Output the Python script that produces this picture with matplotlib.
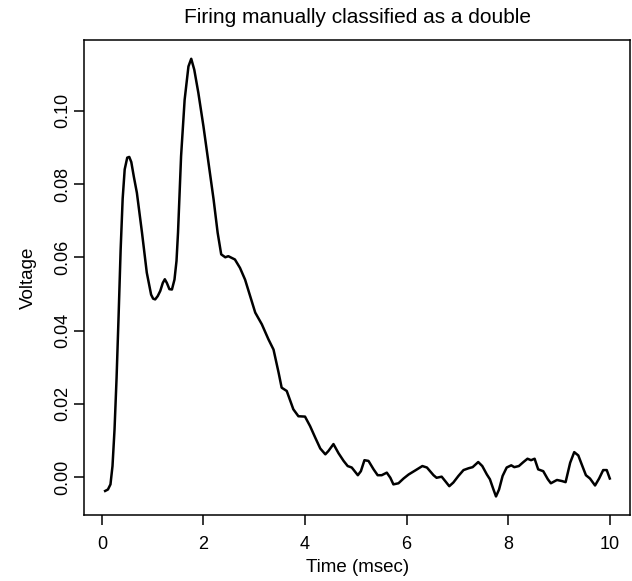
import matplotlib
matplotlib.use("Agg")
from matplotlib import pyplot as plt

plt.rcParams["font.family"] = ["Liberation Sans", "DejaVu Sans"]

# waveform (time in msec, voltage)
time_ms = [0.065, 0.12, 0.17, 0.21, 0.25, 0.29, 0.33, 0.37, 0.41, 0.45, 0.50, 0.54,
           0.58, 0.63, 0.69, 0.79, 0.885, 0.97, 1.01, 1.05, 1.10, 1.15, 1.20, 1.24,
           1.28, 1.33, 1.38, 1.43, 1.47, 1.50, 1.56, 1.63, 1.705, 1.76,
           1.82, 1.90, 2.00, 2.10, 2.20, 2.28, 2.35, 2.43, 2.49, 2.62, 2.72, 2.82,
           2.92, 3.02, 3.15, 3.28, 3.38, 3.48, 3.54, 3.64, 3.77, 3.87, 4.00, 4.10,
           4.20, 4.30, 4.40, 4.46, 4.56, 4.66, 4.76, 4.84, 4.92, 5.04, 5.10, 5.17,
           5.25, 5.35, 5.43, 5.51, 5.61, 5.68, 5.74, 5.84, 5.94, 6.04, 6.17, 6.31,
           6.40, 6.53, 6.59, 6.69, 6.76, 6.84, 6.92, 7.02, 7.12, 7.22, 7.30, 7.41,
           7.49, 7.58, 7.64, 7.71, 7.76, 7.82, 7.89, 7.97, 8.06, 8.12, 8.21, 8.30,
           8.38, 8.45, 8.52, 8.59, 8.69, 8.78, 8.84, 8.96, 9.06, 9.13, 9.22, 9.30,
           9.38, 9.46, 9.53, 9.61, 9.71, 9.79, 9.87, 9.94, 10.0]
voltage = [-0.0038, -0.0034, -0.0020, 0.0030, 0.0130, 0.0270, 0.0440, 0.0620, 0.0760,
           0.0840, 0.0872, 0.0874, 0.0860, 0.0820, 0.0776, 0.0668, 0.0558, 0.0498,
           0.0487, 0.0485, 0.0494, 0.0508, 0.0530, 0.0540, 0.0530, 0.0513, 0.0512,
           0.0539, 0.0590, 0.0668, 0.0876, 0.1030, 0.1121, 0.1142, 0.1112, 0.1049,
           0.0958, 0.0858, 0.0758, 0.0667, 0.0608, 0.0600, 0.0603, 0.0594, 0.0571,
           0.0539, 0.0494, 0.0449, 0.0417, 0.0376, 0.0348, 0.0285, 0.0244, 0.0235,
           0.0185, 0.0166, 0.0165, 0.0139, 0.0108, 0.0078, 0.0062, 0.0071, 0.0090,
           0.0065, 0.0044, 0.0030, 0.0026, 0.0005, 0.0016, 0.0046, 0.0044, 0.0021,
           0.0005, 0.0005, 0.0012, -0.0002, -0.0020, -0.0017, -0.0004, 0.0007, 0.0018,
           0.0030, 0.0026, 0.0005, -0.0002, 0.0001, -0.0011, -0.0025, -0.0015, 0.0003,
           0.0019, 0.0024, 0.0027, 0.0041, 0.0030, 0.0007, -0.0006, -0.0034, -0.0053,
           -0.0034, 0.0003, 0.0026, 0.0032, 0.0027, 0.0030, 0.0041, 0.0050, 0.0046,
           0.0050, 0.0021, 0.0016, -0.0006, -0.0017, -0.0008, -0.0011, -0.0014, 0.0039,
           0.0068, 0.0059, 0.0030, 0.0005, -0.0004, -0.0023, -0.0004, 0.0019, 0.0019,
           -0.0004]

x_ticks = [0, 2, 4, 6, 8, 10]
y_ticks = [0.00, 0.02, 0.04, 0.06, 0.08, 0.10]
y_tick_labels = ["0.00", "0.02", "0.04", "0.06", "0.08", "0.10"]

fig = plt.figure(figsize=(6.32, 5.81), dpi=100)
ax = fig.add_axes([0.133, 0.114, 0.864, 0.817])

ax.plot(time_ms, voltage, color="black", lw=1.8, solid_joinstyle="round")

ax.set_xlim(-0.35, 10.4)
ax.set_ylim(-0.0103, 0.1193)
ax.set_xticks(x_ticks)
ax.set_yticks(y_ticks)
ax.set_yticklabels(y_tick_labels, rotation=90, va="center")
ax.tick_params(axis="both", length=7.5, width=1.1, labelsize=13)
ax.tick_params(axis="x", pad=8)
ax.tick_params(axis="y", pad=2)
for s in ax.spines.values():
    s.set_linewidth(1.1)

ax.set_xlabel("Time (msec)", fontsize=13.5, labelpad=4)
ax.set_ylabel("Voltage", fontsize=13.5, labelpad=12)
ax.set_title("Firing manually classified as a double", fontsize=15, pad=12)

fig.savefig("out.png", dpi=100)
